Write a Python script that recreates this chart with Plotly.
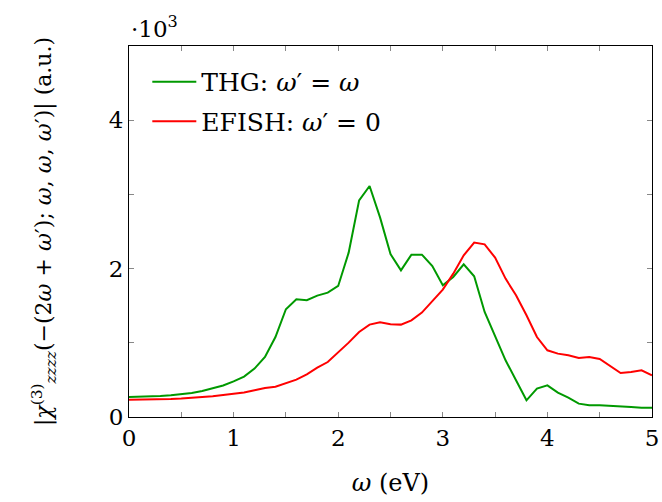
import plotly.graph_objects as go

# Photon energy grid (eV)
omega = [round(0.1 * i, 1) for i in range(51)]

# |chi^(3)_zzzz| spectra (a.u.)
thg = [270, 272, 276, 282, 292, 305, 325, 350, 385, 425,
       480, 545, 652, 809, 1078, 1452, 1586, 1573, 1636, 1676,
       1766, 2215, 2920, 3113, 2690, 2195, 1977, 2188, 2188, 2035,
       1775, 1887, 2058, 1896, 1415, 1101, 764, 495, 225, 382,
       427, 328, 261, 180, 158, 158, 153, 149, 135, 126, 126]
efish = [234, 235, 237, 240, 244, 250, 258, 268, 280, 295,
         308, 330, 360, 391, 409, 458, 504, 575, 665, 741,
         867, 1002, 1146, 1245, 1276, 1249, 1245, 1303, 1407, 1559,
         1717, 1932, 2179, 2350, 2327, 2148, 1865, 1640, 1371, 1078,
         899, 854, 831, 795, 809, 782, 683, 593, 606, 629, 562]

x_ticks = [0, 1, 2, 3, 4, 5]
y_ticks = [0, 2000, 4000]
y_ticktext = ["0", "2", "4"]

FONT = "DejaVu Serif"

fig = go.Figure()
fig.add_trace(go.Scatter(x=omega, y=thg, mode="lines",
                         name="THG: <i>ω</i>′ = <i>ω</i>", legendgroup="thg",
                         line=dict(color="#009900", width=2)))
fig.add_trace(go.Scatter(x=omega, y=efish, mode="lines",
                         name="EFISH: <i>ω</i>′ = 0", legendgroup="efish",
                         line=dict(color="#ff0000", width=2)))

axis_common = dict(showline=True, linecolor="black", linewidth=1.2,
                   mirror="ticks", ticks="inside", ticklen=5, tickwidth=1,
                   tickcolor="#888888", showgrid=False, zeroline=False,
                   automargin=False,
                   tickfont=dict(family=FONT, size=23, color="black"))

fig.update_xaxes(range=[0, 5], tickvals=x_ticks,
                 minor=dict(dtick=0.5, ticks="inside", ticklen=5,
                            tickcolor="#888888", showgrid=False),
                 title=dict(text="<i>ω</i> (eV)", standoff=24,
                            font=dict(family=FONT, size=24, color="black")),
                 **axis_common)
fig.update_yaxes(range=[0, 5000], tickvals=y_ticks, ticktext=y_ticktext,
                 minor=dict(dtick=1000, ticks="inside", ticklen=5,
                            tickcolor="#888888", showgrid=False),
                 title=dict(text="|<i>χ</i><sup>(3)</sup><sub><i>zzzz</i></sub>(−(2<i>ω</i> + <i>ω</i>′); <i>ω</i>, <i>ω</i>, <i>ω</i>′)| (a.u.)",
                            standoff=50,
                            font=dict(family=FONT, size=22, color="black")),
                 **axis_common)

fig.add_annotation(text="·10<sup>3</sup>", xref="paper", yref="paper",
                   x=0, y=1, xanchor="left", yanchor="bottom", yshift=2,
                   showarrow=False,
                   font=dict(family=FONT, size=23, color="black"))

fig.update_layout(width=662, height=502,
                  margin=dict(l=129, r=10, t=46, b=85),
                  plot_bgcolor="white", paper_bgcolor="white",
                  legend=dict(x=0.035, y=0.965, xanchor="left", yanchor="top",
                              bgcolor="rgba(0,0,0,0)",
                              font=dict(family=FONT, size=25, color="black"),
                              itemwidth=44, traceorder="grouped",
                              tracegroupgap=4),
                  showlegend=True)

fig.write_html("out.html")
